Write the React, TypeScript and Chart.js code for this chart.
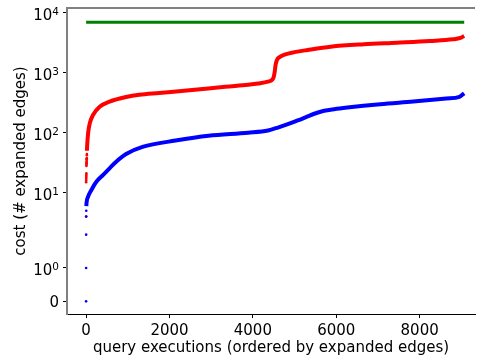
import React, { useEffect, useRef } from 'react';
import { Chart, registerables, Scale } from 'chart.js';

Chart.register(...registerables);

// ---- data ----
const X_TICKS = [0, 2000, 4000, 6000, 8000];
const Y_TICK_VALUES = [0, 1, 10, 100, 1000, 10000];
const Y_TICK_BASE = ['0', '10', '10', '10', '10', '10'];
const Y_TICK_EXP = ['', '0', '1', '2', '3', '4'];

const greenX = [0, 9069];
const greenY = [6920, 6920];

const redHeadX = [0, 1, 2, 3, 4, 5, 6, 7, 8, 9, 10, 11, 12, 13, 14, 15, 16, 17, 18, 19];
const redHeadY = [4, 15, 16, 17, 18, 19, 20, 21, 28, 29, 30, 31, 32, 33, 35, 36, 37, 38, 42, 44];

const redX = [20, 24, 48, 88, 166, 325, 563, 960, 1276, 1751, 2542, 3335, 3888, 4126, 4363, 4460, 4500, 4525, 4545, 4575, 4640, 4760, 4998, 5314, 5867, 6660, 7451, 8242, 8798, 8980, 9069];
const redY = [50, 58, 98, 143, 197, 271, 329, 394, 430, 460, 514, 584, 630, 660, 710, 760, 850, 1050, 1350, 1620, 1820, 2000, 2200, 2393, 2712, 2974, 3162, 3375, 3600, 3800, 4100];

const blueHeadX = [0, 1, 2, 3, 4];
const blueHeadY = [0, 1, 2, 4, 5];

const blueX = [6, 10, 48, 128, 247, 404, 563, 722, 960, 1354, 2147, 2938, 3888, 4363, 4601, 4838, 5076, 5314, 5473, 5710, 5948, 6264, 7055, 7848, 8639, 8955, 9069];
const blueY = [6, 6.7, 8.6, 11.1, 15.2, 19.7, 25.5, 32.9, 44.2, 58, 74, 89, 100, 109, 122, 139, 160, 187, 207, 232, 247, 263, 299, 331, 371, 396, 454];

// ---- symlog scale (linthresh 2, linscale 1, base 10) ----
const LT = 2;
const LS = 1 / (1 - 1 / 10);
function fwd(v: number) {
  const a = Math.abs(v);
  return a <= LT ? v * LS : Math.sign(v) * LT * (LS + Math.log10(a / LT));
}
function inv(t: number) {
  const a = Math.abs(t);
  return a <= LT * LS ? t / LS : Math.sign(t) * LT * Math.pow(10, a / LT - LS);
}

class SymlogScale extends (Scale as any) {
  static id = 'symlog';
  static defaults = {};
  determineDataLimits() {
    const { min, max } = this.getMinMax(true);
    this.min = Number.isFinite(min) ? min : 0;
    this.max = Number.isFinite(max) ? max : 1;
  }
  buildTicks() {
    return Y_TICK_VALUES.map((v) => ({ value: v }));
  }
  configure() {
    super.configure();
    this._tmin = fwd(this.min);
    this._tmax = fwd(this.max);
  }
  getLabelForValue(v: number) {
    return String(v);
  }
  getPixelForValue(v: number) {
    if (v === undefined || v === null || isNaN(v)) return NaN;
    return this.getPixelForDecimal((fwd(v) - this._tmin) / (this._tmax - this._tmin));
  }
  getValueForPixel(p: number) {
    return inv(this._tmin + this.getDecimalForPixel(p) * (this._tmax - this._tmin));
  }
}
Chart.register(SymlogScale as any);

const topSpine = {
  id: 'topSpine',
  afterDraw(chart: any) {
    const { ctx, chartArea: a } = chart;
    ctx.save();
    ctx.strokeStyle = '#808080';
    ctx.lineWidth = 2;
    ctx.beginPath();
    ctx.moveTo(a.left - 1, a.top);
    ctx.lineTo(a.right, a.top);
    ctx.stroke();
    ctx.restore();
  },
};

// y tick labels with real superscripts (mathtext-like)
const yLabels = {
  id: 'yLabels',
  afterDraw(chart: any) {
    const { ctx, chartArea: a } = chart;
    const ys = chart.scales.y;
    const xr = a.left - 8;
    ctx.save();
    ctx.fillStyle = '#000';
    ctx.textAlign = 'right';
    ctx.textBaseline = 'alphabetic';
    Y_TICK_VALUES.forEach((v, i) => {
      const y = ys.getPixelForValue(v);
      const exp = Y_TICK_EXP[i];
      let x = xr;
      if (exp) {
        ctx.font = '10.5px "DejaVu Sans"';
        const w = ctx.measureText(exp).width;
        ctx.fillText(exp, x, y + 1.8);
        x -= w;
        ctx.font = '15px "DejaVu Sans"';
        ctx.fillText(Y_TICK_BASE[i], x, y + 6.8);
      } else {
        ctx.font = '15px "DejaVu Sans"';
        ctx.fillText(Y_TICK_BASE[i], x, y + 5.5);
      }
    });
    ctx.restore();
  },
};

const pts = (xs: number[], ys: number[]) => xs.map((x, i) => ({ x, y: ys[i] }));

export default function App() {
  const ref = useRef<HTMLCanvasElement | null>(null);
  useEffect(() => {
    document.body.style.margin = '0';
    const font = { family: 'DejaVu Sans', size: 15 };
    const chart = new Chart(ref.current as HTMLCanvasElement, {
      type: 'scatter',
      data: {
        datasets: [
          { data: pts(greenX, greenY), showLine: true, borderColor: '#008000', borderWidth: 3, pointRadius: 0 },
          { data: pts(blueX, blueY), showLine: true, borderColor: '#0000ff', borderWidth: 4, pointRadius: 0, cubicInterpolationMode: 'monotone' },
          { data: pts(blueHeadX, blueHeadY), showLine: false, pointRadius: 1.3, pointBorderWidth: 0, backgroundColor: '#0000ff', borderColor: '#0000ff' },
          { data: pts(redX, redY), showLine: true, borderColor: '#ff0000', borderWidth: 4, pointRadius: 0, cubicInterpolationMode: 'monotone' },
          { data: pts(redHeadX, redHeadY), showLine: false, pointRadius: 1.3, pointBorderWidth: 0, backgroundColor: '#ff0000', borderColor: '#ff0000' },
        ] as any,
      },
      options: {
        animation: false,
        responsive: false,
        devicePixelRatio: 1,
        layout: { padding: { top: 8, left: 0, right: 0, bottom: 0 } },
        plugins: { legend: { display: false }, tooltip: { enabled: false } },
        scales: {
          x: {
            type: 'linear',
            min: -458,
            max: 9328,
            afterBuildTicks: (s: any) => { s.ticks = X_TICKS.map((v) => ({ value: v })); },
            afterFit: (s: any) => { s.height = 50; s.paddingLeft = 0; s.paddingRight = 0; },
            grid: { drawOnChartArea: false, drawTicks: true, tickLength: 4, color: '#000' },
            border: { display: true, color: '#000', width: 1 },
            ticks: { font, color: '#000', padding: 4.5, maxRotation: 0, autoSkip: false, callback: (v: any) => String(v) },
            title: { display: true, text: 'query executions (ordered by expanded edges)', font, color: '#000', padding: { top: 0, bottom: 6.5 } },
          },
          y: {
            type: 'symlog',
            min: -0.38,
            max: 11978,
            afterFit: (s: any) => { s.width = 67; s.paddingTop = 0; s.paddingBottom = 0; },
            grid: { drawOnChartArea: false, drawTicks: true, tickLength: 4, color: '#000' },
            border: { display: true, color: '#808080', width: 2 },
            ticks: { display: false, autoSkip: false },
            title: { display: true, text: 'cost (# expanded edges)', font, color: '#000', padding: { top: 12, bottom: 0 } },
          } as any,
        },
      },
      plugins: [topSpine, yLabels],
    } as any);
    return () => chart.destroy();
  }, []);
  return (
    <div style={{ position: 'fixed', left: 0, top: 0, width: 479, height: 364 }}>
      <canvas ref={ref} width={479} height={364} style={{ display: 'block' }} />
    </div>
  );
}
